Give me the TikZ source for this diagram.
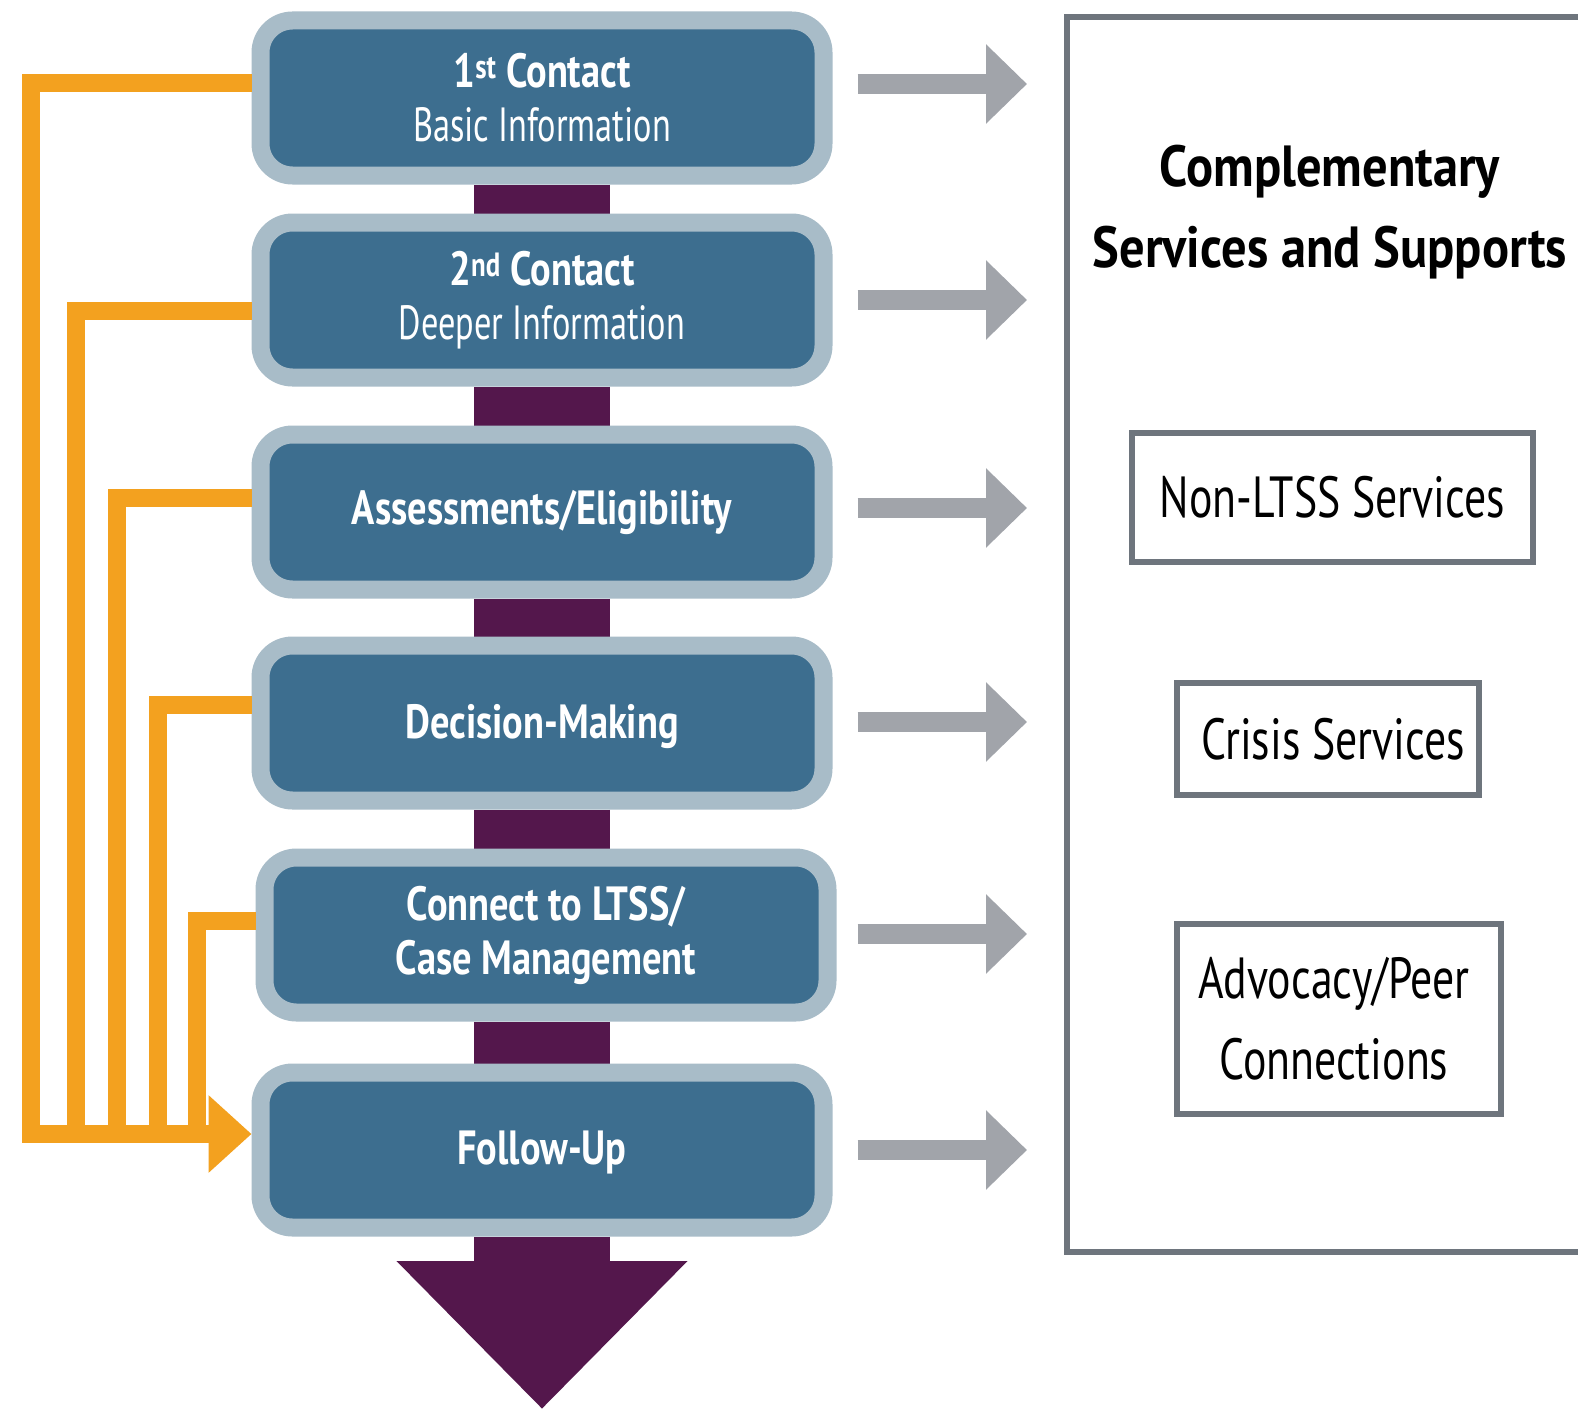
\documentclass[tikz,border=0pt]{standalone}
\usepackage{fontspec}
\setmainfont{PT Sans}[FakeStretch=0.72]
\newfontfamily\regL{PT Sans}[FakeStretch=0.715]
\newfontfamily\boldL{PT Sans}[FakeStretch=0.80]
\newfontfamily\regR{PT Sans}[FakeStretch=0.755]
\newfontfamily\titleF{PT Sans}[FakeStretch=0.87]
\usetikzlibrary{arrows.meta,backgrounds}
\definecolor{boxlight}{HTML}{A8BCC8}
\definecolor{boxdark}{HTML}{3D6E8F}
\definecolor{plum}{HTML}{54174C}
\definecolor{arrgrey}{HTML}{A1A4AA}
\definecolor{orng}{HTML}{F3A11F}
\definecolor{framegrey}{HTML}{6E757D}
\newcommand{\hd}[1]{{\boldL\bfseries #1}}
\begin{document}
\begin{tikzpicture}[x=1pt,y=-1pt,
  stage/.style={rectangle, rounded corners=32pt, line width=18pt, draw=boxlight,
    fill=boxdark, minimum width=563pt, minimum height=155pt, inner sep=0pt,
    text=white, align=center, font=\fontsize{48}{54}\selectfont\regL},
  svc/.style={rectangle, draw=framegrey, line width=6pt, inner sep=0pt,
    align=center, font=\fontsize{58}{81}\selectfont\regR},
  garrow/.style={draw=arrgrey, line width=20pt, shorten <=25pt,
    -{Triangle[length=41pt,width=77pt]}},
  oline/.style={draw=orng, line width=18pt, line join=miter},
  plumline/.style={draw=plum, line width=136pt}]
\useasboundingbox (0,0) rectangle (1578,1410);
% stages
\node[stage] (b1) at (542,98)  {\hd{1\textsuperscript{st} Contact}\\Basic Information};
\node[stage] (b2) at (542,300) {\hd{2\textsuperscript{nd} Contact}\\Deeper Information};
\node[stage] (b3) at (542,512) {\hd{Assessments/Eligibility}};
\node[stage, text depth=4pt] (b4) at (542,723) {\hd{Decision-Making}};
\node[stage] (b5) at (546,935) {\hd{Connect to LTSS/}\\\hd{Case Management}};
\node[stage, text depth=4pt] (b6) at (542,1150) {\hd{Follow-Up}};
% background: white and purple spine
\begin{scope}[on background layer]
  \fill[white] (0,0) rectangle (1578,1410);
  \draw[plumline] (b1.south) -- (b2.north);
  \draw[plumline] (b2.south) -- (b3.north);
  \draw[plumline] (b3.south) -- (b4.north);
  \draw[plumline] (b4.south) -- (b4.south |- b5.north);
  \draw[plumline] (b5.south -| b4.south) -- (b6.north);
  \draw[plumline, -{Triangle[length=148pt,width=282pt]}] (b6.south) -- (b6.south |- 0,1409);
\end{scope}
% orange feedback lines
\draw[oline, -{Triangle[length=43pt,width=75pt]}] (b1.west |- 0,83) -- (31,83) -- (31,1134) -- (b6.west |- 0,1134);
\draw[oline] (b2.west |- 0,311) -- (75.5,311) -- (75.5,1134);
\draw[oline] (b3.west |- 0,498) -- (117,498) -- (117,1134);
\draw[oline] (b4.west |- 0,705) -- (158,705) -- (158,1134);
\draw[oline] (b5.west |- 0,921) -- (197,921) -- (197,1134);
% right panel
\draw[framegrey, line width=6pt, line join=miter] (1600,17) -- (1067,17) -- (1067,1252) -- (1600,1252);
\node[font=\fontsize{58}{81}\selectfont\titleF\bfseries, align=center] (title) at (1330,212) {Complementary\\Services and Supports};
\node[svc, minimum width=401pt, minimum height=129pt] (s1) at (1332.5,497.5) {Non-LTSS Services};
\node[svc, minimum width=302pt, minimum height=112pt] (s2) at (1328,739) {\hspace*{10pt}Crisis Services};
\node[svc, minimum width=324pt, minimum height=190pt] (s3) at (1339,1019) {Advocacy/Peer\hspace*{10pt}\\Connections\hspace*{10pt}};
% grey arrows
\coordinate (g1) at (1027,84);
\coordinate (g2) at (1027,300);
\coordinate (g3) at (1027,508);
\coordinate (g4) at (1027,722);
\coordinate (g5) at (1027,934);
\coordinate (g6) at (1027,1150);
\draw[garrow] (b1.east |- g1) -- (g1);
\draw[garrow] (b2.east |- g2) -- (g2);
\draw[garrow] (b3.east |- g3) -- (g3);
\draw[garrow] (b4.east |- g4) -- (g4);
\draw[garrow, shorten <=21pt] (b5.east |- g5) -- (g5);
\draw[garrow] (b6.east |- g6) -- (g6);
\end{tikzpicture}
\end{document}
